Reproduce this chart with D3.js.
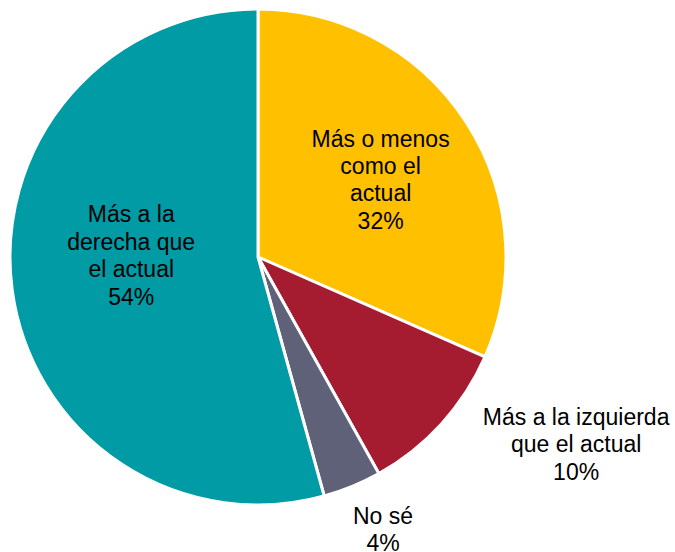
<!DOCTYPE html>
<html>
<head>
<meta charset="utf-8">
<script src="https://cdn.jsdelivr.net/npm/d3@7"></script>
<style>
  body { margin: 0; background: #fff; }
  text { font-family: "Liberation Sans", Arial, sans-serif; font-size: 23px; fill: #000; }
</style>
</head>
<body>
<svg id="pie"></svg>
<script>
const categories = ["Más o menos como el actual", "Más a la izquierda que el actual", "No sé", "Más a la derecha que el actual"];
const values = [31.6, 10.3, 3.8, 54.3];
const labelLines = [
  ["Más o menos", "como el", "actual"],
  ["Más a la izquierda", "que el actual"],
  ["No sé"],
  ["Más a la", "derecha que", "el actual"]
];
const colors = ["#ffc000", "#a51b30", "#5f6178", "#009ba4"];

const width = 675;
const height = 552;
const radius = 248;
const cx = 258, cy = 257;

// label placement: radius factor + small nudges
const labelR = [0.6, 1.38, 1.2, 0.52];
const labelNudge = [[-2, 4], [65, -43], [12, -3], [1, -19]];
const lineH = 27.5;

const svg = d3.select("#pie")
  .attr("width", width)
  .attr("height", height);

const g = svg.append("g")
  .attr("transform", `translate(${cx}, ${cy})`);

const pie = d3.pie().sort(null).value(d => d);
const arc = d3.arc().innerRadius(0).outerRadius(radius);

const slices = g.selectAll("g.slice")
  .data(pie(values))
  .enter()
  .append("g")
  .attr("class", "slice");

slices.append("path")
  .attr("d", arc)
  .attr("fill", (d, i) => colors[i])
  .attr("stroke", "#fff")
  .attr("stroke-width", 3)
  .attr("stroke-linejoin", "round");

slices.each(function(d, i) {
  const a = d3.arc().innerRadius(radius * labelR[i]).outerRadius(radius * labelR[i]);
  const [x, y] = a.centroid(d);
  const lines = labelLines[i].concat([Math.round(d.data) + "%"]);
  const t = d3.select(this).append("text")
    .attr("text-anchor", "middle")
    .attr("transform", `translate(${x + labelNudge[i][0]}, ${y + labelNudge[i][1]})`);
  lines.forEach((ln, k) => {
    t.append("tspan")
      .attr("x", 0)
      .attr("y", (k - (lines.length - 1) / 2) * lineH)
      .attr("dy", "0.35em")
      .text(ln);
  });
});
</script>
</body>
</html>
